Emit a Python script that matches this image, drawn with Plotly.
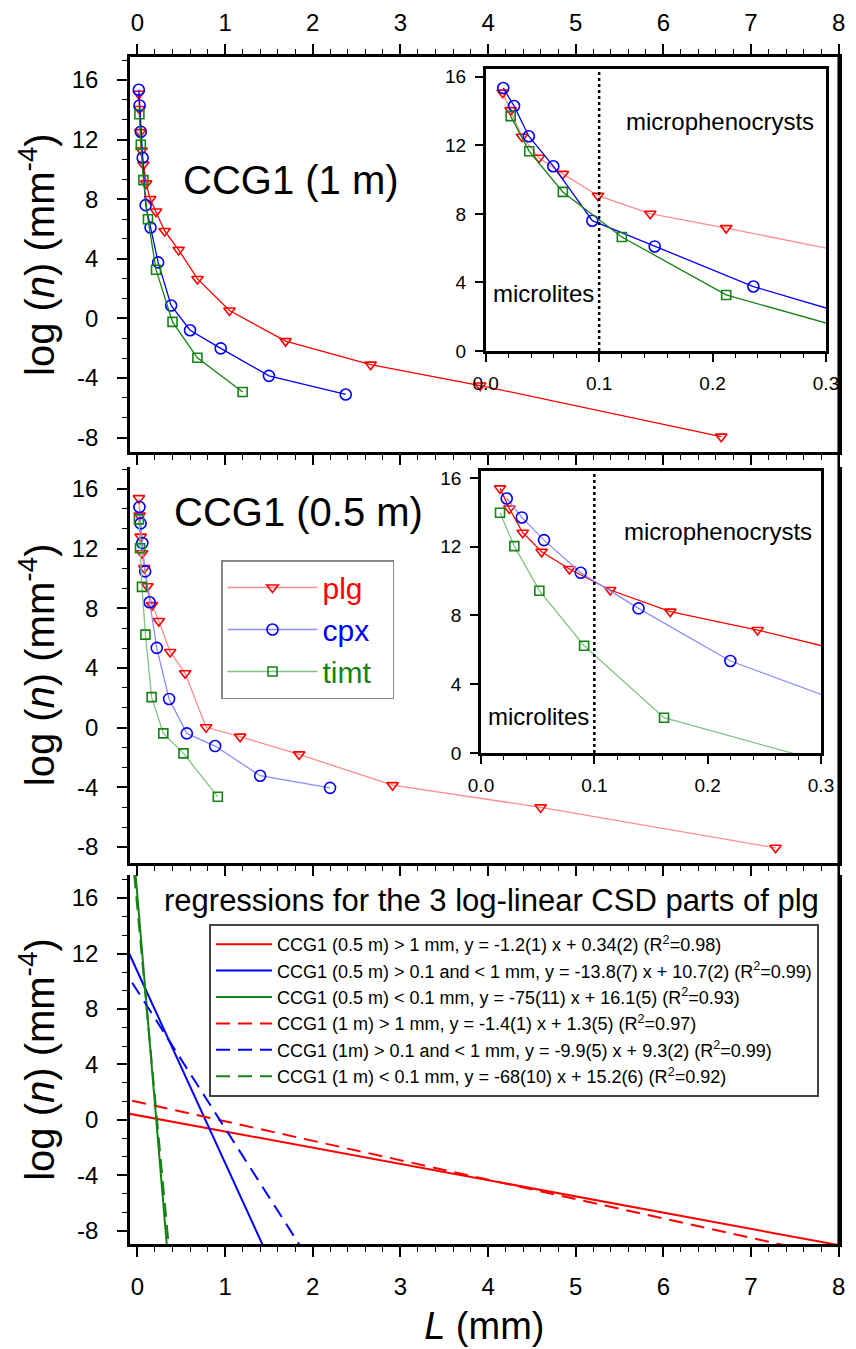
import numpy as np
import plotly.graph_objects as go

# ---------------- data ----------------
# CCG1 (1 m)
plg1_L = [0.015, 0.022, 0.032, 0.047, 0.068, 0.099, 0.145, 0.212, 0.31, 0.47, 0.685, 1.05, 1.69, 2.66, 3.91, 6.66]
plg1_n = [15.07, 14.05, 12.5, 11.27, 10.33, 9.06, 8.01, 7.17, 5.87, 4.6, 2.65, 0.53, -1.52, -3.1, -4.5, -7.93]
cpx1_L = [0.0155, 0.025, 0.038, 0.0596, 0.094, 0.149, 0.236, 0.384, 0.60, 0.95, 1.50, 2.376]
cpx1_n = [15.34, 14.29, 12.53, 10.78, 7.6, 6.1, 3.76, 0.87, -0.79, -2.01, -3.85, -5.1]
timt1_L = [0.022, 0.0384, 0.068, 0.12, 0.212, 0.40, 0.684, 1.20]
timt1_n = [13.7, 11.65, 9.28, 6.65, 3.27, -0.23, -2.64, -4.93]

# CCG1 (0.5 m)
plg05_L = [0.0168, 0.025, 0.0368, 0.0535, 0.078, 0.114, 0.167, 0.244, 0.373, 0.544, 0.783, 1.171, 1.844, 2.91, 4.60, 7.28]
plg05_n = [15.39, 14.22, 12.81, 11.7, 10.7, 9.48, 8.22, 7.15, 5.08, 3.65, 0.03, -0.6, -1.79, -3.85, -5.34, -8.05]
cpx05_L = [0.0227, 0.036, 0.0556, 0.088, 0.139, 0.22, 0.361, 0.563, 0.886, 1.40, 2.197]
cpx05_n = [14.8, 13.7, 12.38, 10.48, 8.41, 5.35, 1.93, -0.38, -1.23, -3.22, -4.03]
timt05_L = [0.0168, 0.0294, 0.0515, 0.091, 0.1615, 0.295, 0.525, 0.917]
timt05_n = [13.97, 12.03, 9.44, 6.24, 2.05, -0.38, -1.72, -4.63]

# regressions (log n = slope * L + intercept)
reg_labels = [
    "CCG1 (0.5 m) > 1 mm, y = -1.2(1) x + 0.34(2) (R<sup>2</sup>=0.98)",
    "CCG1 (0.5 m) > 0.1 and < 1 mm, y = -13.8(7) x + 10.7(2) (R<sup>2</sup>=0.99)",
    "CCG1 (0.5 m) < 0.1 mm, y = -75(11) x + 16.1(5) (R<sup>2</sup>=0.93)",
    "CCG1 (1 m) > 1 mm, y = -1.4(1) x + 1.3(5) (R<sup>2</sup>=0.97)",
    "CCG1 (1m) > 0.1 and < 1 mm, y = -9.9(5) x + 9.3(2) (R<sup>2</sup>=0.99)",
    "CCG1 (1 m) < 0.1 mm, y = -68(10) x + 15.2(6) (R<sup>2</sup>=0.92)",
]
reg_slope = [-1.17, -13.8, -75.0, -1.4, -9.9, -68.0]
reg_intercept = [0.34, 10.7, 16.1, 1.3, 9.3, 15.2]
reg_L_start = [-0.1, -0.1, -0.1, -0.06, -0.06, -0.06]
reg_L_end = [8.0, 8.0, 8.0, 8.0, 8.0, 8.0]

x_ticks_main = [0, 1, 2, 3, 4, 5, 6, 7, 8]
y_ticks_main = [-8, -4, 0, 4, 8, 12, 16]
y_ticktext_main = ["-8", "-4", "0", "4", "8", "12", "16"]
series_names = ["plg", "cpx", "timt"]

# ---------------- styling ----------------
# the page body has an 8 px default margin: the figure is 848 x 1341 and sits at (8, 8)
OFF = 8
W, H = 856 - OFF, 1349 - OFF
FONT = "Liberation Sans, Arial, sans-serif"
RED, BLUE, GREEN = "rgb(255,0,0)", "rgb(0,0,255)", "rgb(20,130,20)"
RED_L, BLUE_L, GREEN_L = "rgb(255,140,140)", "rgb(140,140,255)", "rgb(130,195,130)"
NB = "\u00a0"


def fx(p):
    return (p - OFF) / W


def fy(p):
    return 1 - (p - OFF) / H


fig = go.Figure()

sym = {"plg": ("triangle-down-open", 10, RED), "cpx": ("circle-open", 11, BLUE), "timt": ("square-open", 9, GREEN)}


def add_series(L, n, kind, lcolor, xa, ya, showlegend=False, name=None, legend="legend"):
    s, size, mc = sym[kind]
    fig.add_trace(go.Scatter(
        x=L, y=n, mode="lines+markers", xaxis=xa, yaxis=ya,
        line=dict(color=lcolor, width=1.3),
        marker=dict(symbol=s, size=size, color=mc, line=dict(width=1.6, color=mc)),
        showlegend=showlegend, name=name, legend=legend, cliponaxis=True,
    ))


# top main
add_series(plg1_L, plg1_n, "plg", RED, "x", "y")
add_series(cpx1_L, cpx1_n, "cpx", BLUE, "x", "y")
add_series(timt1_L, timt1_n, "timt", GREEN, "x", "y")
# top inset
add_series(plg1_L, plg1_n, "plg", RED_L, "x4", "y4")
add_series(cpx1_L, cpx1_n, "cpx", BLUE, "x4", "y4")
add_series(timt1_L, timt1_n, "timt", GREEN, "x4", "y4")
# middle main (legend)
add_series(plg05_L, plg05_n, "plg", RED_L, "x2", "y2", True,
           f"<span style='color:{RED}'>{series_names[0]}</span>" + NB * 2)
add_series(cpx05_L, cpx05_n, "cpx", BLUE_L, "x2", "y2", True,
           f"<span style='color:{BLUE}'>{series_names[1]}</span>" + NB * 2)
add_series(timt05_L, timt05_n, "timt", GREEN_L, "x2", "y2", True,
           f"<span style='color:{GREEN}'>{series_names[2]}</span>" + NB * 2)
# middle inset
add_series(plg05_L, plg05_n, "plg", RED, "x5", "y5")
add_series(cpx05_L, cpx05_n, "cpx", BLUE_L, "x5", "y5")
add_series(timt05_L, timt05_n, "timt", GREEN_L, "x5", "y5")

# regression lines
reg_colors = [RED, BLUE, GREEN, RED, BLUE, GREEN]
reg_dash = ["solid", "solid", "solid", "14px,8px", "14px,8px", "14px,8px"]
for i in range(6):
    xs = np.array([reg_L_start[i], reg_L_end[i]])
    ys = reg_slope[i] * xs + reg_intercept[i]
    fig.add_trace(go.Scatter(
        x=xs, y=ys, mode="lines", xaxis="x3", yaxis="y3",
        line=dict(color=reg_colors[i], width=2, dash=reg_dash[i]),
        name=reg_labels[i], legend="legend2", showlegend=True,
    ))

XDOM = [fx(130), fx(838.7)]
XR = [-0.085, 8.0]

axis_common = dict(
    showline=True, linewidth=2.5, linecolor="black", showgrid=False, zeroline=False,
    ticks="outside", tickwidth=1.5, tickcolor="black", ticklen=10, automargin=False,
    tickfont=dict(family=FONT, size=24, color="black"),
)

xmain = dict(axis_common, domain=XDOM, range=XR, tickmode="array", tickvals=x_ticks_main,
             minor=dict(dtick=0.2, ticklen=5, tickwidth=1.2, ticks="outside", tickcolor="black"))
ymain = dict(axis_common, tickmode="array", tickvals=y_ticks_main, ticktext=y_ticktext_main,
             minor=dict(dtick=4 / 3, tick0=0, ticklen=5, tickwidth=1.2, ticks="outside", tickcolor="black"),
             ticklabelstandoff=14)

ytitle = dict(text="log (<i>n</i>) (mm<sup>-4</sup>)", font=dict(family=FONT, size=40, color="black"), standoff=5)

fig.update_layout(
    width=W, height=H, margin=dict(l=0, r=0, t=0, b=0, autoexpand=False),
    paper_bgcolor="white", plot_bgcolor="white",
    font=dict(family=FONT, color="black"),
    xaxis=dict(xmain, anchor="y", side="top", mirror="allticks", ticklabelstandoff=4),
    yaxis=dict(ymain, domain=[fy(452.3), fy(57)], range=[-8.98, 17.54], anchor="x", mirror=True, title=ytitle),
    xaxis2=dict(xmain, anchor="y2", showticklabels=False),
    yaxis2=dict(ymain, domain=[fy(863), fy(466.7)], range=[-9.07, 17.5], anchor="x2", mirror=True, title=ytitle),
    xaxis3=dict(xmain, anchor="y3", ticklabelstandoff=9,
                title=dict(text="<i>L</i> (mm)", font=dict(family=FONT, size=38, color="black"), standoff=14)),
    yaxis3=dict(ymain, domain=[fy(1244), fy(875)], range=[-8.94, 17.66], anchor="x3", mirror=True, title=ytitle),
)

inset_x = dict(axis_common, range=[0, 0.3], dtick=0.1, tick0=0, tickformat=".1f", ticklen=8,
               tickfont=dict(family=FONT, size=19, color="black"), mirror=True, ticklabelstandoff=5,
               minor=dict(dtick=0.02, ticklen=4, tickwidth=1.2, ticks="outside", tickcolor="black"))
inset_y = dict(axis_common, dtick=4, tick0=0, ticklen=8, mirror=True,
               tickfont=dict(family=FONT, size=19, color="black"), ticklabelstandoff=5)

fig.update_layout(
    xaxis4=dict(inset_x, domain=[fx(485.7), fx(826)], anchor="y4"),
    yaxis4=dict(inset_y, domain=[fy(351), fy(69)], range=[0, 16.45], anchor="x4"),
    xaxis5=dict(inset_x, domain=[fx(481), fx(821)], anchor="y5"),
    yaxis5=dict(inset_y, domain=[fy(753), fy(471)], range=[0, 16.4], anchor="x5"),
)

# dotted boundary microlites / microphenocrysts at L = 0.1 mm
for xa, ya in (("x4", "y4"), ("x5", "y5")):
    fig.add_shape(type="line", xref=xa, yref=f"{ya} domain", x0=0.1, x1=0.1, y0=0, y1=1,
                  line=dict(color="black", width=2.5, dash="dot"))

# continuous right frame line
fig.add_shape(type="line", xref="paper", yref="paper", x0=fx(838.7), x1=fx(838.7), y0=fy(1244), y1=fy(57),
              line=dict(color="black", width=2.5))

ann = []


def text(x, y, s, size):
    ann.append(dict(x=fx(x), y=fy(y), xref="paper", yref="paper", text=s, showarrow=False,
                    xanchor="center", yanchor="middle",
                    font=dict(family=FONT, size=size, color="black")))


text(291, 180, "CCG1 (1 m)", 40)
text(298, 512, "CCG1 (0.5 m)", 40)
text(720, 122, "microphenocrysts", 24)
text(543, 293, "microlites", 24)
text(718, 531, "microphenocrysts", 24)
text(538, 716, "microlites", 24)
text(491, 900, "regressions for the 3 log-linear CSD parts of plg", 31)
fig.update_layout(annotations=ann)

fig.update_layout(
    legend=dict(x=fx(221), y=fy(560), xanchor="left", yanchor="top", bgcolor="white",
                bordercolor="#888888", borderwidth=1.5, font=dict(family=FONT, size=30),
                itemwidth=90),
    legend2=dict(x=fx(209), y=fy(924), xanchor="left", yanchor="top", bgcolor="white",
                 bordercolor="#444444", borderwidth=2, font=dict(family=FONT, size=18),
                 itemwidth=56),
)

fig.write_html("out.html")
